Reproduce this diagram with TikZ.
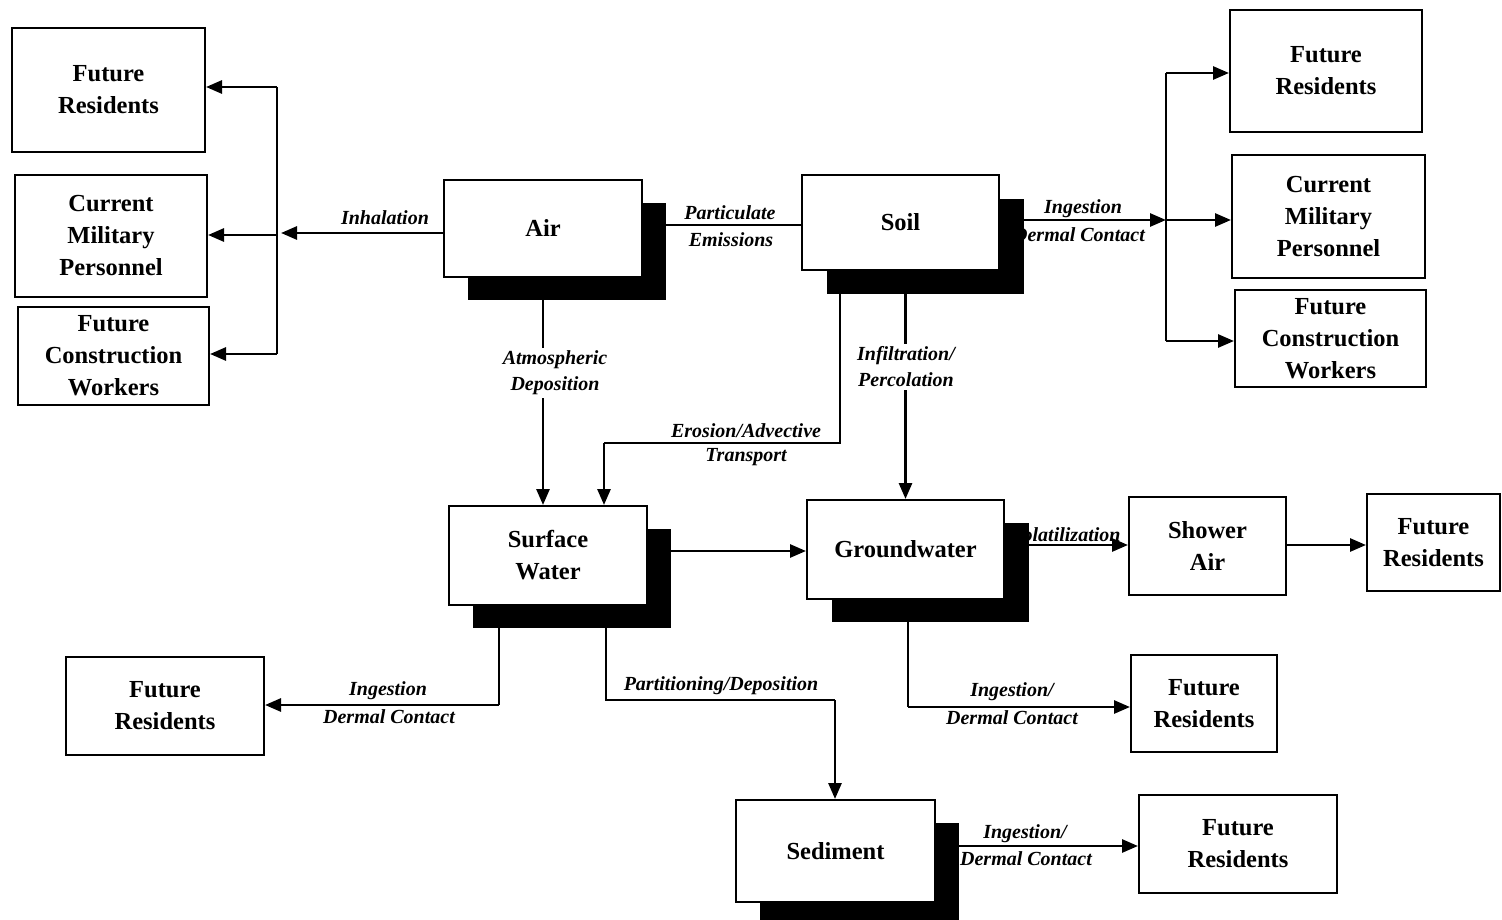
\documentclass[tikz,border=0pt]{standalone}
\usepackage{fontspec}
\setmainfont{Liberation Serif}
\usetikzlibrary{arrows.meta,calc,backgrounds}
\tikzset{
  box/.style={draw, line width=2pt, fill=white, rectangle, inner sep=0pt, align=center,
    font=\fontsize{24.5}{32}\selectfont\bfseries},
  shade/.style={fill=black, draw=none, rectangle, inner sep=0pt},
  conn/.style={line width=2.8pt},
  arr/.style={line width=2.8pt, -{Triangle[length=16pt,width=13pt]}},
  lbl/.style={font=\fontsize{20}{26}\selectfont\bfseries\itshape, inner sep=1pt, align=center},
  lblw/.style={lbl, fill=white, inner sep=3pt}
}
\begin{document}
\begin{tikzpicture}[x=1pt,y=-1pt]
\useasboundingbox (0,0) rectangle (1502,920);
% shadows
\node[shade, minimum width=198pt, minimum height=97pt] (airS) at (567,251.5) {};
\node[shade, minimum width=197pt, minimum height=95pt] (soilS) at (925.5,246.5) {};
\node[shade, minimum width=198pt, minimum height=99pt] (swS) at (572,578.5) {};
\node[shade, minimum width=197pt, minimum height=99pt] (gwS) at (930.5,572.5) {};
\node[shade, minimum width=199pt, minimum height=102pt] (sedS) at (859.5,874) {};
% boxes
\node[box, minimum width=193pt, minimum height=124pt] (fr1) at (108.5,90) {Future\\Residents};
\node[box, minimum width=192pt, minimum height=122pt] (cmp1) at (111,236) {Current\\Military\\Personnel};
\node[box, minimum width=191pt, minimum height=98pt] (fcw1) at (113.5,356) {Future\\Construction\\Workers};
\node[box, minimum width=198pt, minimum height=97pt] (air) at (543,228.5) {Air};
\node[box, minimum width=197pt, minimum height=95pt] (soil) at (900.5,222.5) {Soil};
\node[box, minimum width=192pt, minimum height=122pt] (fr2) at (1326,71) {Future\\Residents};
\node[box, minimum width=193pt, minimum height=123pt] (cmp2) at (1328.5,216.5) {Current\\Military\\Personnel};
\node[box, minimum width=191pt, minimum height=97pt] (fcw2) at (1330.5,338.5) {Future\\Construction\\Workers};
\node[box, minimum width=198pt, minimum height=99pt] (sw) at (548,555.5) {Surface\\Water};
\node[box, minimum width=197pt, minimum height=99pt] (gw) at (905.5,549.5) {Groundwater};
\node[box, minimum width=157pt, minimum height=98pt] (shower) at (1207.5,546) {Shower\\Air};
\node[box, minimum width=133pt, minimum height=97pt] (fr3) at (1433.5,542.5) {Future\\Residents};
\node[box, minimum width=198pt, minimum height=98pt] (fr4) at (165,706) {Future\\Residents};
\node[box, minimum width=146pt, minimum height=97pt] (fr5) at (1204,703.5) {Future\\Residents};
\node[box, minimum width=199pt, minimum height=102pt] (sed) at (835.5,851) {Sediment};
\node[box, minimum width=198pt, minimum height=98pt] (fr6) at (1238,844) {Future\\Residents};
% helper coordinates
\coordinate (bLa) at (281,233);
\coordinate (bL1) at (277,87);
\coordinate (bL2) at (277,235);
\coordinate (bL3) at (277,354);
\coordinate (bR) at (1166,220);
\coordinate (bR1) at (1166,73);
\coordinate (bR3) at (1166,341);
\coordinate (ero) at (840,443);
\coordinate (ero2) at (604,443);
\coordinate (swd) at (499,705);
\coordinate (part) at (606,700);
\coordinate (part2) at (835,700);
\coordinate (gwd) at (908,707);
\begin{scope}[on background layer]
% left fan
\draw[arr] (air.west |- bLa) -- (bLa);
\draw[conn] (bL1) -- (bL3);
\draw[arr] (bL1) -- (fr1.east |- bL1);
\draw[arr] (bL2) -- (cmp1.east |- bL2);
\draw[arr] (bL3) -- (fcw1.east |- bL3);
% air - soil
\draw[conn] (airS.east |- 0,225) -- (soil.west |- 0,225);
% atmospheric deposition
\draw[arr] (airS.south -| air.south) -- (sw.north -| air.south);
% erosion
\draw[conn] (soilS.south -| ero) -- (ero) -- (ero2);
\draw[arr] (ero2) -- (sw.north -| ero2);
% infiltration
\draw[arr] (soilS.south -| gw.north) -- (gw.north);
% soil right fan
\draw[arr] (soilS.east |- bR) -- (bR);
\draw[conn] (bR1) -- (bR3);
\draw[arr] (bR1) -- (fr2.west |- bR1);
\draw[arr] (bR) -- (cmp2.west |- bR);
\draw[arr] (bR3) -- (fcw2.west |- bR3);
% sw -> gw
\draw[arr] (swS.east |- 0,551) -- (gw.west |- 0,551);
% volatilization
\draw[arr] (gwS.east |- 0,545) -- (shower.west |- 0,545);
\draw[arr] (shower.east |- 0,545) -- (fr3.west |- 0,545);
% sw -> fr4
\draw[conn] (sw.south -| swd) -- (swd);
\draw[arr] (swd) -- (fr4.east |- swd);
% partitioning
\draw[conn] (swS.south -| part) -- (part) -- (part2);
\draw[arr] (part2) -- (sed.north -| part2);
% gw -> fr5
\draw[conn] (gwS.south -| gwd) -- (gwd);
\draw[arr] (gwd) -- (fr5.west |- gwd);
% sed -> fr6
\draw[arr] (sedS.east |- 0,846) -- (fr6.west |- 0,846);
% labels
\node[lbl] (l1) at (385,218) {Inhalation};
\node[lbl] (l2) at (730,213) {Particulate};
\node[lbl] (l3) at (731,240) {Emissions};
\node[lblw] (l4) at (555,373) {Atmospheric\\Deposition};
\node[lblw] (l5) at (906,367) {Infiltration/\\Percolation};
\node[lbl] (l6) at (746,431) {Erosion/Advective};
\node[lbl] (l7) at (746,457) {Transport};
\node[lbl] (l8) at (1083,209) {Ingestion};
\node[lbl] (l9) at (1079,235) {Dermal Contact};
\node[lbl] (l10) at (1066,535) {Volatilization};
\node[lbl] (l11) at (721,686) {Partitioning/Deposition};
\node[lbl] (l12) at (388,691) {Ingestion};
\node[lbl] (l13) at (389,717) {Dermal Contact};
\node[lbl] (l14) at (1012,692) {Ingestion/};
\node[lbl] (l15) at (1012,718) {Dermal Contact};
\node[lbl] (l16) at (1025,834) {Ingestion/};
\node[lbl] (l17) at (1026,859) {Dermal Contact};
\end{scope}
\end{tikzpicture}
\end{document}
